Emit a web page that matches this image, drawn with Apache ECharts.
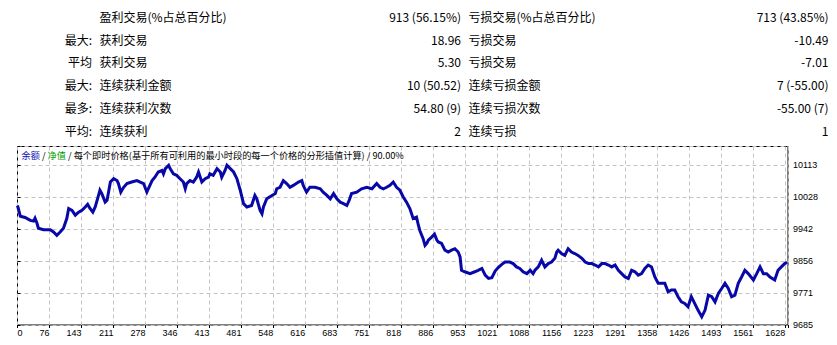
<!DOCTYPE html>
<html><head><meta charset="utf-8">
<script src="https://cdn.jsdelivr.net/npm/echarts@6/dist/echarts.min.js"></script>
<style>html,body{margin:0;padding:0;background:#fff;}#c{width:837px;height:345px;}</style>
</head><body><div id="c"></div>
<script>
// ---- statistics table ----
const rowPrefix = ['', '最大:', '平均', '最大:', '最多:', '平均:'];
const winLabels = ['盈利交易(%占总百分比)', '获利交易', '获利交易', '连续获利金额', '连续获利次数', '连续获利'];
const winValues = ['913 (56.15%)', '18.96', '5.30', '10 (50.52)', '54.80 (9)', '2'];
const lossLabels = ['亏损交易(%占总百分比)', '亏损交易', '亏损交易', '连续亏损金额', '连续亏损次数', '连续亏损'];
const lossValues = ['713 (43.85%)', '-10.49', '-7.01', '7 (-55.00)', '-55.00 (7)', '1'];

// ---- chart data ----
const chartCaption = ['余额', '净值', '每个即时价格(基于所有可利用的最小时段的每一个价格的分形插值计算)', '90.00%'];
const xTickLabels = ['0','76','143','211','278','346','413','481','548','616','683','751','818','886','953','1021','1088','1156','1223','1291','1358','1426','1493','1561','1628'];
const yTickLabels = ['9685','9771','9856','9942','10028','10113'];
const tradeNo = [0,6,16,27,34,37,41,44,55,69,76,83,90,97,104,108,115,122,129,136,143,148,153,159,164,171,174,178,185,189,196,203,210,213,218,224,231,241,252,259,266,273,276,284,290,297,305,308,312,319,322,329,336,343,350,354,357,364,371,378,382,389,396,403,406,413,421,428,431,438,442,449,456,463,470,477,484,494,501,505,512,516,519,526,537,544,547,554,561,568,575,582,593,600,603,610,617,628,639,645,653,660,667,674,681,688,695,700,705,716,726,737,748,758,765,772,779,786,793,800,807,814,821,828,835,842,846,849,856,860,864,867,874,880,885,888,895,902,909,916,923,930,934,937,944,955,965,972,980,987,994,1001,1008,1015,1022,1029,1039,1046,1053,1060,1067,1075,1082,1088,1092,1099,1106,1113,1120,1127,1134,1138,1141,1148,1155,1162,1169,1176,1183,1191,1198,1205,1212,1219,1226,1233,1240,1247,1254,1261,1268,1275,1282,1289,1296,1303,1310,1317,1324,1331,1338,1345,1352,1359,1366,1373,1380,1387,1394,1401,1408,1415,1422,1429,1436,1444,1451,1458,1465,1472,1479,1486,1493,1500,1507,1514,1521,1528,1535,1542,1553,1560,1567,1574,1581,1588,1598,1605,1612,1619,1624];
const balance = [10006,9977,9974,9966,9964,9972,9959,9945,9941,9941,9935,9926,9935,9945,9971,9998,9993,9980,9988,9993,10002,10009,9998,9988,10002,10033,10047,10038,10015,10020,10069,10078,10073,10065,10042,10055,10065,10069,10073,10069,10065,10042,10051,10073,10082,10096,10100,10091,10105,10114,10105,10091,10087,10078,10069,10051,10065,10073,10069,10082,10096,10069,10078,10082,10091,10087,10105,10096,10082,10100,10114,10105,10096,10078,10047,10011,10002,10006,10033,10024,9993,9984,10002,10024,10033,10038,10051,10055,10073,10065,10055,10060,10069,10073,10060,10042,10055,10055,10051,10042,10033,10024,10038,10024,10015,10011,10006,10020,10038,10042,10051,10055,10051,10065,10055,10051,10055,10060,10069,10055,10047,10029,10015,9998,9971,9975,9953,9939,9917,9899,9905,9913,9921,9929,9913,9908,9904,9886,9881,9886,9890,9881,9868,9832,9828,9823,9828,9832,9837,9819,9810,9812,9830,9840,9848,9854,9854,9850,9841,9837,9828,9823,9832,9823,9832,9841,9859,9841,9850,9854,9864,9881,9886,9877,9872,9890,9881,9877,9872,9864,9854,9850,9850,9846,9841,9850,9850,9846,9841,9846,9832,9823,9814,9810,9832,9828,9819,9823,9837,9846,9841,9814,9797,9797,9797,9774,9779,9779,9761,9747,9743,9734,9761,9743,9725,9707,9725,9765,9761,9747,9770,9783,9797,9783,9761,9765,9797,9814,9832,9823,9806,9823,9841,9823,9823,9814,9806,9832,9841,9850,9853];

// ---- axis scale settings ----
const xStep = 67.5, xMax = 1626;
const yMin = 9685, yStep = 9685 / 113, yMax = 10164.5;

const chart = echarts.init(document.getElementById('c'), null, {renderer: 'svg'});

const tableFont = '12px "Noto Sans CJK SC", sans-serif';
const rowY = [16.5, 39, 61.5, 84.5, 107, 130];
const graphics = [];
function txt(text, x, y, align) {
  graphics.push({type: 'text', x: x, y: y, silent: true,
    style: {text: text, align: align, verticalAlign: 'middle', font: tableFont, fill: '#000'}});
}
for (let i = 0; i < rowY.length; i++) {
  if (rowPrefix[i]) txt(rowPrefix[i], 92, rowY[i], 'right');
  txt(winLabels[i], 99.5, rowY[i], 'left');
  txt(winValues[i], 461, rowY[i], 'right');
  txt(lossLabels[i], 468.5, rowY[i], 'left');
  txt(lossValues[i], 828.5, rowY[i], 'right');
}
const capFont = '9.2px "Noto Sans CJK SC", sans-serif';
graphics.push({type: 'text', x: 21.5, y: 154.5, silent: true, z: 10,
  style: {
    text: '{b|' + chartCaption[0] + '}{k| / }{g|' + chartCaption[1] + '}{k| / ' + chartCaption[2] + ' / ' + chartCaption[3] + '}',
    verticalAlign: 'middle', align: 'left',
    rich: {
      b: {fill: '#1010b0', font: capFont},
      g: {fill: '#00a000', font: capFont},
      k: {fill: '#000', font: capFont}
    }
  }});

function idxLabel(v, min, step, labels) {
  const i = Math.round((v - min) / step);
  if (Math.abs(v - (min + i * step)) > 1e-6) return '';
  return labels[i] !== undefined ? labels[i] : '';
}

const splitStyle = {color: '#c4c4c4', width: 1, type: [4, 3]};
chart.setOption({
  animation: false,
  backgroundColor: '#fff',
  graphic: graphics,
  grid: {left: 17.5, top: 146.5, right: 49, bottom: 20, show: true, borderColor: '#000', borderWidth: 1, backgroundColor: 'transparent', containLabel: false},
  xAxis: {
    type: 'value', min: 0, max: xMax, interval: xStep,
    axisLine: {show: false},
    axisTick: {show: true, length: 3, lineStyle: {color: '#000'}},
    splitLine: {show: true, lineStyle: splitStyle},
    axisLabel: {
      margin: 3, align: 'right', alignMinLabel: 'left', showMaxLabel: true,
      fontSize: 9, fontFamily: '"Liberation Sans", sans-serif', color: '#000',
      formatter: v => idxLabel(v, 0, xStep, xTickLabels)
    }
  },
  yAxis: {
    type: 'value', position: 'right', min: yMin, max: yMax, interval: yStep,
    axisLine: {show: false},
    axisTick: {show: true, length: 3, lineStyle: {color: '#000'}},
    splitLine: {show: true, lineStyle: splitStyle},
    axisLabel: {
      margin: 5, fontSize: 9, fontFamily: '"Liberation Sans", sans-serif', color: '#000',
      formatter: v => idxLabel(v, yMin, yStep, yTickLabels)
    }
  },
  series: [{
    type: 'line', showSymbol: false, silent: true,
    data: tradeNo.map((t, i) => [t, balance[i]]),
    lineStyle: {color: '#0808a8', width: 3, join: 'miter'},
    z: 5
  }]
});
</script></body></html>
